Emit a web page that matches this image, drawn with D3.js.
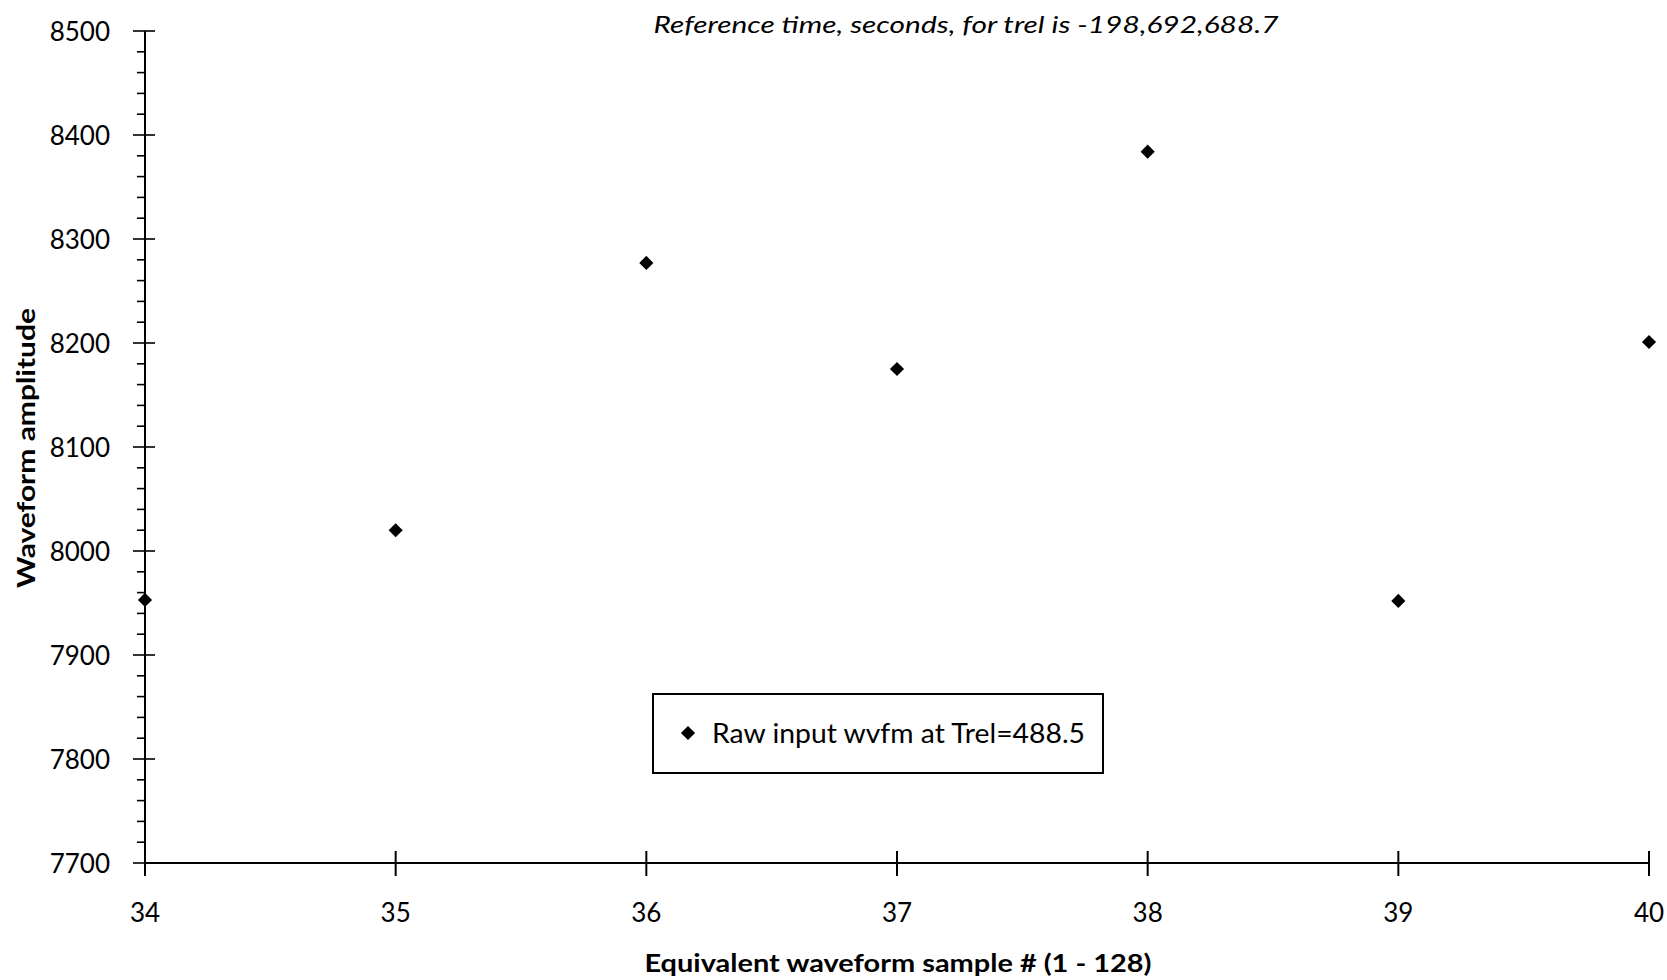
<!DOCTYPE html>
<html>
<head>
<meta charset="utf-8">
<script src="https://cdn.jsdelivr.net/npm/d3@7"></script>
<style>
  html, body { margin: 0; padding: 0; background: #fff; }
  svg { display: block; }
  text { font-family: Lato, "Open Sans", sans-serif; fill: #000; }
</style>
</head>
<body>
<svg id="chart" width="1667" height="980"></svg>
<script>
// Waveform samples 34–40 of the raw input at Trel = 488.5
const sampleNumbers = [34, 35, 36, 37, 38, 39, 40];
const amplitudes    = [7953, 8020, 8277, 8175, 8384, 7952, 8201];

const xTickValues = [34, 35, 36, 37, 38, 39, 40];
const yTickValues = [7700, 7800, 7900, 8000, 8100, 8200, 8300, 8400, 8500];

const titleText  = "Reference time, seconds, for trel is -198,692,688.7";
const xAxisTitle = "Equivalent waveform sample # (1 - 128)";
const yAxisTitle = "Waveform amplitude";
const legendText = "Raw input wvfm at Trel=488.5";

const svg = d3.select("#chart");

const plot = { left: 145, right: 1649, top: 31, bottom: 863 };

const x = d3.scaleLinear().domain([34, 40]).range([plot.left, plot.right]);
const y = d3.scaleLinear().domain([7700, 8500]).range([plot.bottom, plot.top]);

const ink = "#000";

// Y axis: line, minor ticks (every 20) on the left, major ticks crossing the line
const yAxisG = svg.append("g");
yAxisG.append("line")
  .attr("x1", plot.left).attr("x2", plot.left)
  .attr("y1", y(8500)).attr("y2", y(7700))
  .attr("stroke", ink).attr("stroke-width", 2);

const minorY = d3.range(7700, 8500.1, 20).filter(v => v % 100 !== 0);
yAxisG.selectAll("line.minor").data(minorY).join("line")
  .attr("class", "minor")
  .attr("x1", plot.left - 8).attr("x2", plot.left)
  .attr("y1", d => y(d)).attr("y2", d => y(d))
  .attr("stroke", ink).attr("stroke-width", 1.6);

yAxisG.selectAll("line.major").data(yTickValues).join("line")
  .attr("class", "major")
  .attr("x1", plot.left - 12).attr("x2", plot.left + 10)
  .attr("y1", d => y(d)).attr("y2", d => y(d))
  .attr("stroke", ink).attr("stroke-width", 1.6);

yAxisG.selectAll("text").data(yTickValues).join("text")
  .attr("x", 110).attr("y", d => y(d))
  .attr("text-anchor", "end").attr("dominant-baseline", "central")
  .attr("font-size", 26)
  .text(d => d);

// X axis: line and major ticks crossing it
const xAxisG = svg.append("g");
xAxisG.append("line")
  .attr("x1", x(34)).attr("x2", x(40))
  .attr("y1", plot.bottom).attr("y2", plot.bottom)
  .attr("stroke", ink).attr("stroke-width", 2);

xAxisG.selectAll("line.major").data(xTickValues).join("line")
  .attr("class", "major")
  .attr("x1", d => x(d)).attr("x2", d => x(d))
  .attr("y1", plot.bottom - 12).attr("y2", plot.bottom + 13)
  .attr("stroke", ink).attr("stroke-width", 2);

xAxisG.selectAll("text").data(xTickValues).join("text")
  .attr("x", d => x(d)).attr("y", 912)
  .attr("text-anchor", "middle").attr("dominant-baseline", "central")
  .attr("font-size", 26)
  .text(d => d);

// Data markers: filled diamonds (rotated squares)
const marker = d3.symbol().type(d3.symbolSquare).size(100);
svg.append("g").selectAll("path").data(sampleNumbers).join("path")
  .attr("d", marker)
  .attr("transform", (d, i) => `translate(${x(d)},${y(amplitudes[i])}) rotate(45)`)
  .attr("fill", ink);

// Title
svg.append("text")
  .attr("x", 966).attr("y", 23)
  .attr("text-anchor", "middle").attr("dominant-baseline", "central")
  .attr("font-size", 24).attr("font-style", "italic")
  .attr("textLength", 625).attr("lengthAdjust", "spacingAndGlyphs")
  .text(titleText);

// Axis titles
svg.append("text")
  .attr("x", 898).attr("y", 962)
  .attr("text-anchor", "middle").attr("dominant-baseline", "central")
  .attr("font-size", 25).attr("font-weight", "bold")
  .attr("textLength", 507).attr("lengthAdjust", "spacingAndGlyphs")
  .text(xAxisTitle);

svg.append("text")
  .attr("transform", "translate(25,448) rotate(-90)")
  .attr("text-anchor", "middle").attr("dominant-baseline", "central")
  .attr("font-size", 25).attr("font-weight", "bold")
  .attr("textLength", 280).attr("lengthAdjust", "spacingAndGlyphs")
  .text(yAxisTitle);

// Legend
const legend = svg.append("g");
legend.append("rect")
  .attr("x", 653).attr("y", 694).attr("width", 450).attr("height", 79)
  .attr("fill", "#fff").attr("stroke", ink).attr("stroke-width", 2);
legend.append("path")
  .attr("d", marker)
  .attr("transform", "translate(688,733) rotate(45)")
  .attr("fill", ink);
legend.append("text")
  .attr("x", 712).attr("y", 733)
  .attr("dominant-baseline", "central")
  .attr("font-size", 26)
  .attr("textLength", 373).attr("lengthAdjust", "spacingAndGlyphs")
  .text(legendText);
</script>
</body>
</html>
